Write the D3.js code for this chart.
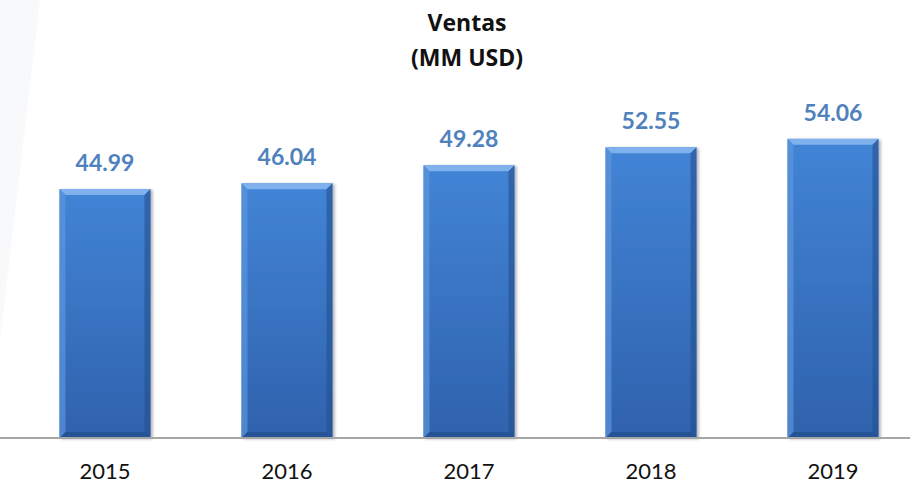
<!DOCTYPE html>
<html>
<head>
<meta charset="utf-8">
<script src="https://cdn.jsdelivr.net/npm/d3@7"></script>
<style>
  body { margin: 0; background: #fff; }
  svg { display: block; }
</style>
</head>
<body>
<div id="chart"></div>
<script>
let w = 910;
let h = 485;

// data
const years = ["2015", "2016", "2017", "2018", "2019"];
const ventas = [44.99, 46.04, 49.28, 52.55, 54.06];
const titleLines = ["Ventas", "(MM USD)"];

const dataset = years.map((y, i) => ({year: y, value: ventas[i]}));

let svg = d3.select("#chart")
    .append("svg")
    .attr("width", w)
    .attr("height", h);

// faint background shape at left
svg.append("path")
    .attr("d", "M0,0 L40,0 L0,340 Z")
    .attr("fill", "#f8f9fb");

const defs = svg.append("defs");
let grad = defs.append("linearGradient")
    .attr("id", "barGrad")
    .attr("x1", 0).attr("y1", 0).attr("x2", 0).attr("y2", 1);
grad.append("stop").attr("offset", "0%").attr("stop-color", "#4284d6");
grad.append("stop").attr("offset", "100%").attr("stop-color", "#2f62ad");

let shadow = defs.append("filter").attr("id", "shadow")
    .attr("x", "-10%").attr("y", "-10%").attr("width", "130%").attr("height", "130%");
shadow.append("feDropShadow")
    .attr("dx", 2).attr("dy", 1).attr("stdDeviation", 1.5)
    .attr("flood-color", "#000").attr("flood-opacity", 0.3);

// scales
let xScale = d3.scaleBand()
    .domain(years)
    .range([14, 924])
    .paddingInner(0.5)
    .paddingOuter(0.25);

let yScale = d3.scaleLinear()
    .domain([0, 60])
    .range([438, 106]);

// bars
const bev = 6;
let bars = svg.append("g")
    .selectAll("g")
    .data(dataset)
    .enter()
    .append("g")
    .attr("filter", "url(#shadow)");

bars.append("rect")
    .attr("x", d => xScale(d.year))
    .attr("y", d => yScale(d.value))
    .attr("width", xScale.bandwidth())
    .attr("height", d => yScale(0) - yScale(d.value))
    .attr("fill", "url(#barGrad)");

// bevel facets
function facet(fn, color, op) {
    bars.append("path")
        .attr("d", fn)
        .attr("fill", color)
        .attr("opacity", op);
}
facet(d => {
    let x0 = xScale(d.year), x1 = x0 + xScale.bandwidth(), y0 = yScale(d.value);
    return `M${x0},${y0}L${x1},${y0}L${x1 - bev},${y0 + bev}L${x0 + bev},${y0 + bev}Z`;
}, "#86b6ef", 0.9);
facet(d => {
    let x0 = xScale(d.year), y0 = yScale(d.value), y1 = yScale(0);
    return `M${x0},${y0}L${x0 + bev},${y0 + bev}L${x0 + bev},${y1 - bev}L${x0},${y1}Z`;
}, "#5c95dc", 0.7);
facet(d => {
    let x1 = xScale(d.year) + xScale.bandwidth(), y0 = yScale(d.value), y1 = yScale(0);
    return `M${x1},${y0}L${x1 - bev},${y0 + bev}L${x1 - bev},${y1 - bev}L${x1},${y1}Z`;
}, "#24508f", 0.6);
facet(d => {
    let x0 = xScale(d.year), x1 = x0 + xScale.bandwidth(), y1 = yScale(0);
    return `M${x0},${y1}L${x1},${y1}L${x1 - bev},${y1 - bev}L${x0 + bev},${y1 - bev}Z`;
}, "#1f4a86", 0.6);

// value labels
svg.append("g")
    .selectAll("text")
    .data(dataset)
    .enter()
    .append("text")
    .attr("x", d => xScale(d.year) + xScale.bandwidth() / 2)
    .attr("y", d => yScale(d.value) - 18)
    .attr("text-anchor", "middle")
    .style("font-family", "Lato, 'Open Sans', sans-serif")
    .style("font-weight", "bold")
    .style("font-size", "23px")
    .style("fill", "#4f81bd")
    .text(d => d.value.toFixed(2));

// x axis
let xAxis = d3.axisBottom(xScale).tickSize(0).tickPadding(25);
let gx = svg.append("g")
    .attr("class", "x axis")
    .attr("transform", "translate(0," + yScale(0) + ")")
    .call(xAxis);
gx.select(".domain")
    .attr("stroke", "#a6a6a6")
    .attr("stroke-width", 2)
    .attr("d", "M0,0H" + w);
gx.selectAll("text")
    .style("font-family", "Lato, 'Open Sans', sans-serif")
    .style("font-size", "22px")
    .style("fill", "#111");

// title
svg.append("text")
    .attr("text-anchor", "middle")
    .style("font-family", "'Open Sans', Lato, sans-serif")
    .style("font-weight", "bold")
    .style("font-size", "23px")
    .style("fill", "#111")
    .selectAll("tspan")
    .data(titleLines)
    .enter()
    .append("tspan")
    .attr("x", 467)
    .attr("y", (d, i) => 31 + i * 35)
    .text(d => d);
</script>
</body>
</html>
